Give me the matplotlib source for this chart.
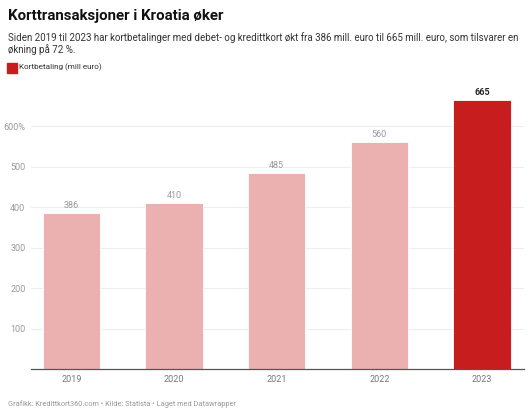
import matplotlib.pyplot as plt

plt.rcParams['font.family'] = ['Roboto', 'DejaVu Sans']

years = ['2019', '2020', '2021', '2022', '2023']
values = [386, 410, 485, 560, 665]
y_ticks = [100, 200, 300, 400, 500, 600]
y_tick_labels = ['100', '200', '300', '400', '500', '600%']

light = '#ebb1b1'
dark = '#c71d1f'

W, H = 530, 416
fig = plt.figure(figsize=(W / 100, H / 100), dpi=100)
# axes in pixel coords: left 31, right 524, bottom 369, top 100 (665)
ymax = 665 * (369 - 80) / (369 - 100)
ax = fig.add_axes([31 / W, (H - 369) / H, (524 - 31) / W, (369 - 80) / H])

x = list(range(len(years)))
colors = [light] * (len(years) - 1) + [dark]
ax.bar(x, values, width=0.56, color=colors, edgecolor='white', linewidth=0.6, zorder=2)

for i, v in enumerate(values):
    last = i == len(values) - 1
    ax.text(i, v + 8, str(v), ha='center', va='bottom', fontsize=6.5,
            color='#222222' if last else '#999999',
            fontweight='bold' if last else 'normal')

ax.set_xlim(-0.395, 4.41)
ax.set_ylim(0, ymax)
ax.set_yticks(y_ticks)
ax.set_yticklabels(y_tick_labels)
ax.set_xticks(x)
ax.set_xticklabels(years)
ax.grid(axis='y', color='#eeeeee', linewidth=0.8, zorder=0)
for s in ['top', 'right', 'left']:
    ax.spines[s].set_visible(False)
ax.spines['bottom'].set_color('#555555')
ax.spines['bottom'].set_linewidth(0.9)
ax.tick_params(axis='y', length=0, pad=4, labelsize=6.5, labelcolor='#999999')
ax.tick_params(axis='x', length=0, pad=4, labelsize=6.5, labelcolor='#777777')
for lbl in ax.get_yticklabels():
    lbl.set_horizontalalignment('right')

fig.text(8 / W, 1 - 16 / H, 'Korttransaksjoner i Kroatia øker', fontsize=10.8,
         fontweight='bold', color='#111111', va='center')
fig.text(8 / W, 1 - 38 / H,
         'Siden 2019 til 2023 har kortbetalinger med debet- og kredittkort økt fra 386 mill. euro til 665 mill. euro, som tilsvarer en',
         fontsize=7.05, color='#333333', va='center')
fig.text(8 / W, 1 - 49.5 / H, 'økning på 72 %.', fontsize=7.05, color='#333333', va='center')

fig.patches.append(plt.Rectangle((7 / W, 1 - 73 / H), 9.5 / W, 10 / H,
                                 transform=fig.transFigure, color=dark))
fig.text(19 / W, 1 - 67 / H, 'Kortbetaling (mill euro)', fontsize=5.9,
         color='#333333', va='center')

fig.text(8 / W, 1 - 404 / H,
         'Grafikk: Kredittkort360.com • Kilde: Statista • Laget med Datawrapper',
         fontsize=5.35, color='#999999', va='center')

fig.savefig('out.png', dpi=100, facecolor='white')
